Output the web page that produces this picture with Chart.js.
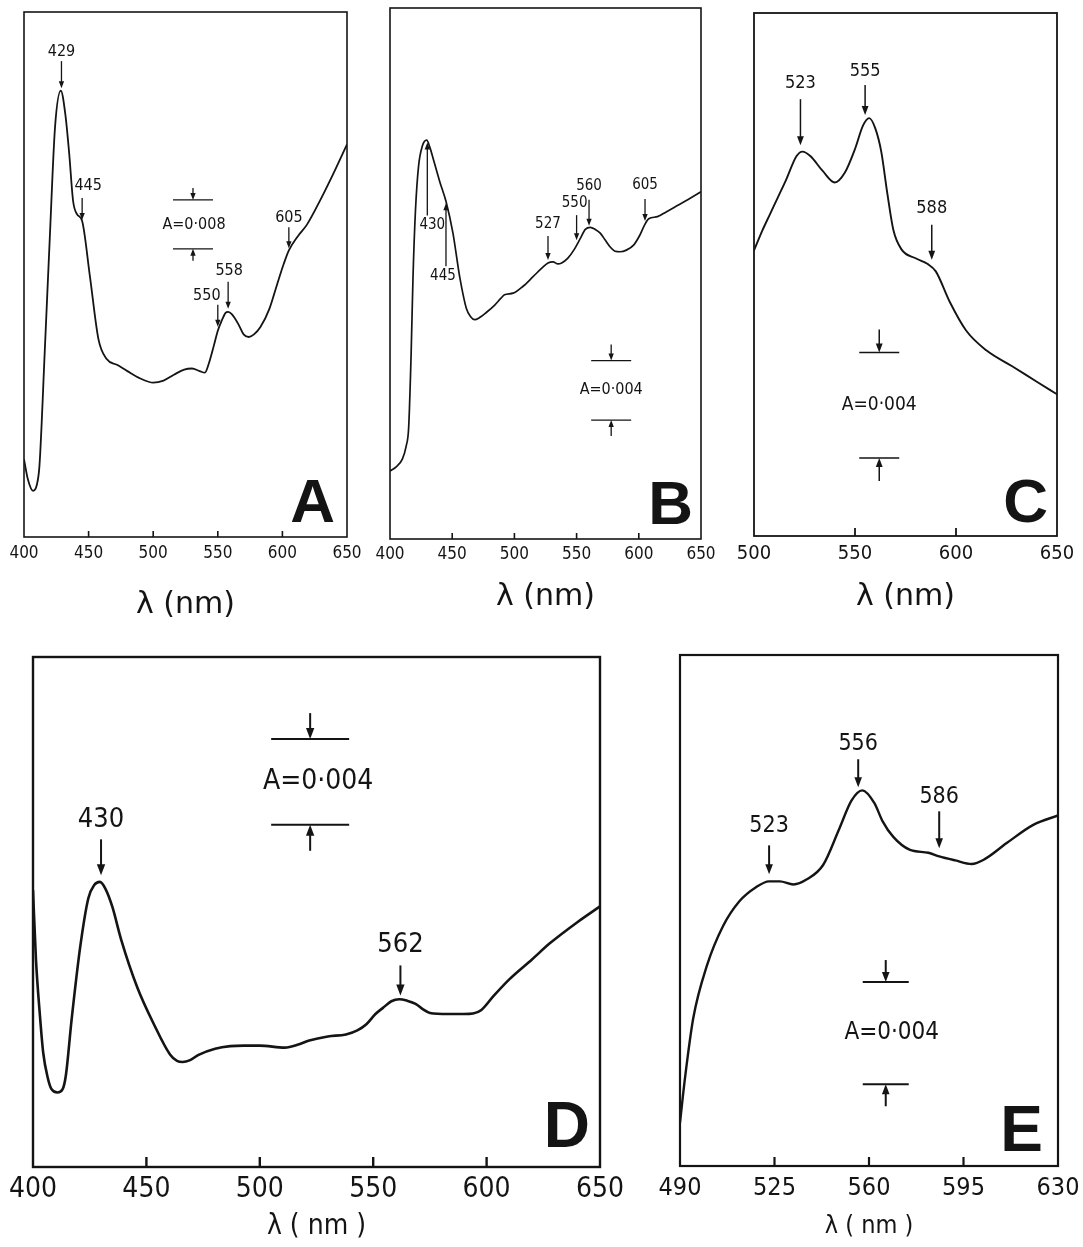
<!DOCTYPE html>
<html>
<head>
<meta charset="utf-8">
<script src="https://cdn.jsdelivr.net/npm/chart.js@4.4.0/dist/chart.umd.min.js"></script>
<style>
  html, body { margin: 0; background: #fff; }
  body { width: 1083px; height: 1247px; position: relative; overflow: hidden; }
  canvas { position: absolute; }
</style>
</head>
<body>
<canvas id="specA"></canvas>
<canvas id="specB"></canvas>
<canvas id="specC"></canvas>
<canvas id="specD"></canvas>
<canvas id="specE"></canvas>
<script>
// ---- Spectra: wavelength (nm) and relative absorbance (0-100 of the frame) ----

const nmA  = [400, 403, 407, 410, 412, 416, 420, 424, 428.5, 432, 435, 438, 441, 445, 451, 457.6, 464, 472, 480, 490, 500, 508, 516, 524, 530, 536, 540, 543, 547, 550, 553, 556, 558, 561, 566, 570, 574, 578, 583, 590, 596, 601, 605, 612, 619, 630, 640, 650];
const absA = [14.8, 11, 8.8, 10, 13.7, 35, 57.2, 78, 85, 80.5, 73, 64, 61.5, 60.2, 49.7, 37.7, 33.9, 32.8, 31.6, 30.2, 29.4, 29.8, 30.9, 31.9, 32.1, 31.6, 31.3, 33, 36.5, 39.3, 41.2, 42.7, 42.9, 42.4, 40.5, 38.6, 38.1, 38.6, 40, 43.5, 48.2, 52, 54.6, 57.3, 59.5, 64.5, 69.5, 74.8];
const ticksA = [400, 450, 500, 550, 600, 650];
const peaksA = [429, 445, 550, 558, 605];
const scaleA = 0.008;

const nmB  = [400, 405, 410, 413, 415, 417, 418.5, 420.5, 423, 426, 429.5, 432, 434.5, 440, 445, 450.6, 456, 461.4, 465, 468, 472, 477.6, 484, 489, 492, 499, 507, 515, 522, 527, 531, 535, 538, 543, 548, 553, 557, 561, 565, 569, 573, 577, 581, 585, 590, 596, 601, 605, 608, 615, 622, 631, 640, 650];
const absB = [12.8, 13.6, 15.1, 17.5, 21, 35, 49.4, 62, 70.3, 74, 75.1, 73.8, 71.8, 67.3, 63.6, 57.6, 49.4, 43.4, 41.8, 41.3, 41.7, 42.7, 44, 45.3, 46, 46.3, 47.6, 49.4, 51, 52, 52.2, 51.8, 52, 52.9, 54.5, 56.6, 58.3, 58.7, 58.3, 57.6, 56.3, 55, 54.2, 54.1, 54.4, 55.4, 57.3, 59.3, 60.3, 60.7, 61.6, 62.8, 64, 65.4];
const ticksB = [400, 450, 500, 550, 600, 650];
const peaksB = [430, 445, 527, 550, 560, 605];
const scaleB = 0.004;

const nmC  = [500, 504, 508, 512, 516, 521, 524, 528, 534, 540, 545, 550, 554, 557, 560, 563, 566, 569, 573, 580, 586, 590, 597, 605, 615, 628, 640, 650];
const absC = [54.6, 58.3, 61.6, 64.9, 68.2, 72.6, 73.5, 72.6, 69.8, 67.6, 69.5, 74, 78.5, 79.9, 78, 73.5, 65.5, 58.5, 54.8, 53.1, 52, 50.6, 44.7, 39.3, 35.5, 32.4, 29.5, 27.1];
const ticksC = [500, 550, 600, 650];
const peaksC = [523, 555, 588];
const scaleC = 0.004;

const nmD  = [400, 401.3, 403, 404.5, 406.5, 408.1, 410.8, 413, 414.5, 417, 420.8, 424.4, 427, 429.5, 432, 435, 438.8, 446, 453.3, 460.5, 463.5, 466, 469, 473, 480.3, 487, 493, 500, 511, 517, 521.8, 530, 538, 543, 547, 551, 554.3, 558, 561.5, 565, 568.7, 572, 575, 583, 590, 594, 597.7, 603, 610, 620, 628, 640, 650];
const absD = [54.3, 40.7, 30, 22.4, 17.5, 15.3, 14.6, 15.2, 18, 28.8, 43.1, 52.7, 55.3, 55.9, 54.5, 51, 44.7, 35.2, 28, 22, 20.8, 20.6, 20.9, 22, 23.2, 23.7, 23.8, 23.8, 23.4, 24, 24.8, 25.6, 26, 26.8, 28, 30, 31.2, 32.5, 32.9, 32.6, 32, 30.9, 30.2, 30, 30, 30.1, 30.8, 33.5, 36.8, 40.7, 43.9, 48, 51.1];
const ticksD = [400, 450, 500, 550, 600, 650];
const peaksD = [430, 562];
const scaleD = 0.004;

const nmE  = [490, 491.8, 494.9, 499.9, 506, 512, 518, 523, 527, 532, 537, 543, 549, 553.5, 557.5, 562, 565, 569, 575, 582, 586, 592, 598, 603, 611, 621, 630];
const absE = [8.5, 17, 28.9, 39.1, 47, 51.8, 54.5, 55.7, 55.7, 55.1, 56.1, 58.9, 66, 71.5, 73.5, 71, 67.5, 64.4, 61.9, 61.3, 60.6, 59.8, 59.1, 60.1, 63.2, 66.8, 68.6];
const ticksE = [490, 525, 560, 595, 630];
const peaksE = [523, 556, 586];
const scaleE = 0.004;

// ---- Drawing helpers ----
const INK = '#141414';
const COND = '"DejaVu Sans Condensed", "Liberation Sans Narrow", "DejaVu Sans", sans-serif';
const SANS = '"DejaVu Sans", Verdana, sans-serif';

// linear lookup of the spectrum at a given wavelength
function curveAt(nm, abs, x) {
  for (let i = 1; i < nm.length; i++) {
    if (x <= nm[i]) {
      const t = (x - nm[i - 1]) / (nm[i] - nm[i - 1]);
      return abs[i - 1] + t * (abs[i] - abs[i - 1]);
    }
  }
  return abs[abs.length - 1];
}

function drawArrow(ctx, x, tail, tip, head) {
  const dir = Math.sign(tip - tail);
  ctx.beginPath();
  ctx.moveTo(x, tail);
  ctx.lineTo(x, tip - dir * head * 0.5);
  ctx.stroke();
  ctx.beginPath();
  ctx.moveTo(x, tip);
  ctx.lineTo(x - head * 0.38, tip - dir * head);
  ctx.lineTo(x + head * 0.38, tip - dir * head);
  ctx.closePath();
  ctx.fill();
}

// frame, inward ticks, peak arrows, absorbance bar and panel letter
const spectrumMarks = {
  id: 'spectrumMarks',
  afterDatasetsDraw(chart, args, o) {
    const { ctx, chartArea: a } = chart;
    const x = chart.scales.x, y = chart.scales.y;
    ctx.save();
    ctx.strokeStyle = INK;
    ctx.fillStyle = INK;
    ctx.lineCap = 'butt';

    ctx.lineWidth = o.frameWidth;
    ctx.strokeRect(a.left, a.top, a.right - a.left, a.bottom - a.top);

    o.ticks.slice(1, -1).forEach(v => {
      const px = x.getPixelForValue(v);
      ctx.beginPath();
      ctx.moveTo(px, a.bottom);
      ctx.lineTo(px, a.bottom - o.tickLen);
      ctx.stroke();
    });

    // peak markers
    ctx.lineWidth = o.arrowWidth;
    ctx.font = o.labelSize + 'px ' + COND;
    ctx.textAlign = 'center';
    ctx.textBaseline = 'middle';
    o.peaks.forEach((nm, i) => {
      const s = o.peakStyle[i];
      const px = x.getPixelForValue(nm);
      const cy = y.getPixelForValue(curveAt(o.nm, o.abs, nm));
      const up = s.dir === 'up';
      const tip = up ? cy + s.gap : cy - s.gap;
      const tail = up ? tip + s.len : tip - s.len;
      drawArrow(ctx, px, tail, tip, o.head);
      ctx.fillText(String(nm), px + (s.dx || 0), up ? tail + s.lift : tail - s.lift);
    });

    // absorbance scale bar
    const b = o.bar;
    const bx = x.getPixelForValue(b.nm);
    const yHi = y.getPixelForValue(b.hi);
    const yLo = y.getPixelForValue(b.lo);
    ctx.beginPath();
    ctx.moveTo(bx - b.halfW, yHi); ctx.lineTo(bx + b.halfW, yHi);
    ctx.moveTo(bx - b.halfW, yLo); ctx.lineTo(bx + b.halfW, yLo);
    ctx.stroke();
    drawArrow(ctx, bx, yHi - b.arrowLen, yHi, o.head);
    drawArrow(ctx, bx, yLo + b.arrowLen, yLo, o.head);
    ctx.font = b.size + 'px ' + COND;
    ctx.fillText('A=' + o.scale.toFixed(3).replace('.', '\u00b7'), bx + (b.dx || 0), (yHi + yLo) / 2);

    // panel letter
    ctx.font = 'bold ' + o.letterSize + 'px "Liberation Sans", Arial, sans-serif';
    ctx.textAlign = 'right';
    ctx.textBaseline = 'alphabetic';
    ctx.fillText(o.letter, a.right - o.letterInset[0], a.bottom - o.letterInset[1]);
    ctx.restore();
  }
};

function makeSpectrum(id, s) {
  const cv = document.getElementById(id);
  const padL = 30, padR = 30, padT = 6;
  cv.width = s.box.r - s.box.l + padL + padR;
  cv.height = s.box.b - s.box.t + padT + s.axisH;
  cv.style.left = (s.box.l - padL) + 'px';
  cv.style.top = (s.box.t - padT) + 'px';

  return new Chart(cv, {
    type: 'line',
    data: {
      datasets: [{
        data: s.nm.map((v, i) => ({ x: v, y: s.abs[i] })),
        borderColor: INK,
        borderWidth: s.lineWidth,
        pointRadius: 0,
        cubicInterpolationMode: 'monotone',
        fill: false
      }]
    },
    options: {
      responsive: false,
      animation: false,
      devicePixelRatio: 1,
      layout: { padding: { left: padL, right: padR, top: padT, bottom: 0 } },
      plugins: {
        legend: { display: false },
        tooltip: { enabled: false },
        spectrumMarks: {
          nm: s.nm, abs: s.abs, ticks: s.ticks, peaks: s.peaks, scale: s.scale,
          peakStyle: s.peakStyle, bar: s.bar, letter: s.letter,
          frameWidth: s.frameWidth, tickLen: s.tickLen, arrowWidth: s.arrowWidth,
          head: s.head, labelSize: s.labelSize, letterSize: s.letterSize, letterInset: s.letterInset
        }
      },
      scales: {
        x: {
          type: 'linear',
          min: s.ticks[0],
          max: s.ticks[s.ticks.length - 1],
          afterBuildTicks: sc => { sc.ticks = s.ticks.map(v => ({ value: v })); },
          afterFit: sc => { sc.height = s.axisH; sc.paddingLeft = 0; sc.paddingRight = 0; },
          grid: { display: false, drawTicks: false },
          border: { display: false },
          ticks: {
            color: INK, padding: s.tickPad, maxRotation: 0, autoSkip: false,
            font: { family: COND, size: s.tickSize }
          },
          title: {
            display: true, text: s.title, color: INK,
            font: { family: s.titleFamily, size: s.titleSize },
            padding: { top: 0, bottom: 0 }
          }
        },
        y: { display: false, min: 0, max: 100 }
      }
    },
    plugins: [spectrumMarks]
  });
}

makeSpectrum('specA', {
  nm: nmA, abs: absA, ticks: ticksA, peaks: peaksA, scale: scaleA, letter: 'A',
  box: { l: 24, t: 12, r: 347, b: 537 }, axisH: 86, tickPad: 6, tickSize: 17,
  title: '\u03bb (nm)', titleFamily: SANS, titleSize: 30,
  lineWidth: 1.8, frameWidth: 1.6, tickLen: 6, arrowWidth: 1.3, head: 7, labelSize: 16,
  peakStyle: [
    { gap: 6, len: 27, lift: 9 },
    { gap: 1, len: 22, lift: 12, dx: 6 },
    { gap: 4, len: 22, lift: 9, dx: -11 },
    { gap: 3, len: 27, lift: 11, dx: 1 },
    { gap: 2, len: 21, lift: 10 }
  ],
  bar: { nm: 530.8, hi: 64.2, lo: 54.9, halfW: 20, arrowLen: 12, size: 16, dx: 1 },
  letterSize: 62, letterInset: [12, 15]
});

makeSpectrum('specB', {
  nm: nmB, abs: absB, ticks: ticksB, peaks: peaksB, scale: scaleB, letter: 'B',
  box: { l: 390, t: 8, r: 701, b: 539 }, axisH: 76, tickPad: 5, tickSize: 17,
  title: '\u03bb (nm)', titleFamily: SANS, titleSize: 30,
  lineWidth: 1.7, frameWidth: 1.6, tickLen: 6, arrowWidth: 1.3, head: 7, labelSize: 15,
  peakStyle: [
    { dir: 'up', gap: 1, len: 73, lift: 10, dx: 5 },
    { dir: 'up', gap: 2, len: 63, lift: 10, dx: -3 },
    { gap: 3, len: 24, lift: 12 },
    { gap: 5, len: 25, lift: 12, dx: -2 },
    { gap: 2, len: 26, lift: 14 },
    { gap: 3, len: 22, lift: 14 }
  ],
  bar: { nm: 577.8, hi: 33.6, lo: 22.4, halfW: 20, arrowLen: 16, size: 16 },
  letterSize: 62, letterInset: [8, 15]
});

makeSpectrum('specC', {
  nm: nmC, abs: absC, ticks: ticksC, peaks: peaksC, scale: scaleC, letter: 'C',
  box: { l: 754, t: 13, r: 1057, b: 536 }, axisH: 79, tickPad: 6, tickSize: 20,
  title: '\u03bb (nm)', titleFamily: SANS, titleSize: 30,
  lineWidth: 1.9, frameWidth: 1.8, tickLen: 8, arrowWidth: 1.5, head: 9, labelSize: 18,
  peakStyle: [
    { gap: 8, len: 46, lift: 16 },
    { gap: 8, len: 30, lift: 14 },
    { gap: 8, len: 35, lift: 16 }
  ],
  bar: { nm: 562, hi: 35.1, lo: 14.9, halfW: 20, arrowLen: 23, size: 19 },
  letterSize: 62, letterInset: [9, 14]
});

makeSpectrum('specD', {
  nm: nmD, abs: absD, ticks: ticksD, peaks: peaksD, scale: scaleD, letter: 'D',
  box: { l: 33, t: 657, r: 600, b: 1167 }, axisH: 77, tickPad: 6, tickSize: 28,
  title: '\u03bb ( nm )', titleFamily: COND, titleSize: 28,
  lineWidth: 2.6, frameWidth: 2.4, tickLen: 10, arrowWidth: 2, head: 11, labelSize: 27,
  peakStyle: [
    { gap: 8, len: 36, lift: 19 },
    { gap: 4, len: 30, lift: 20 }
  ],
  bar: { nm: 522.2, hi: 83.9, lo: 67.1, halfW: 39, arrowLen: 26, size: 28, dx: 8 },
  letterSize: 64, letterInset: [10, 20]
});

makeSpectrum('specE', {
  nm: nmE, abs: absE, ticks: ticksE, peaks: peaksE, scale: scaleE, letter: 'E',
  box: { l: 680, t: 655, r: 1058, b: 1166 }, axisH: 75, tickPad: 7, tickSize: 25,
  title: '\u03bb ( nm )', titleFamily: COND, titleSize: 25,
  lineWidth: 2.4, frameWidth: 2.2, tickLen: 9, arrowWidth: 2, head: 10, labelSize: 23,
  peakStyle: [
    { gap: 7, len: 29, lift: 19 },
    { gap: 7, len: 28, lift: 15 },
    { gap: 8, len: 37, lift: 14 }
  ],
  bar: { nm: 566.2, hi: 36, lo: 16, halfW: 23, arrowLen: 22, size: 24, dx: 6 },
  letterSize: 64, letterInset: [15, 15]
});
</script>
</body>
</html>
